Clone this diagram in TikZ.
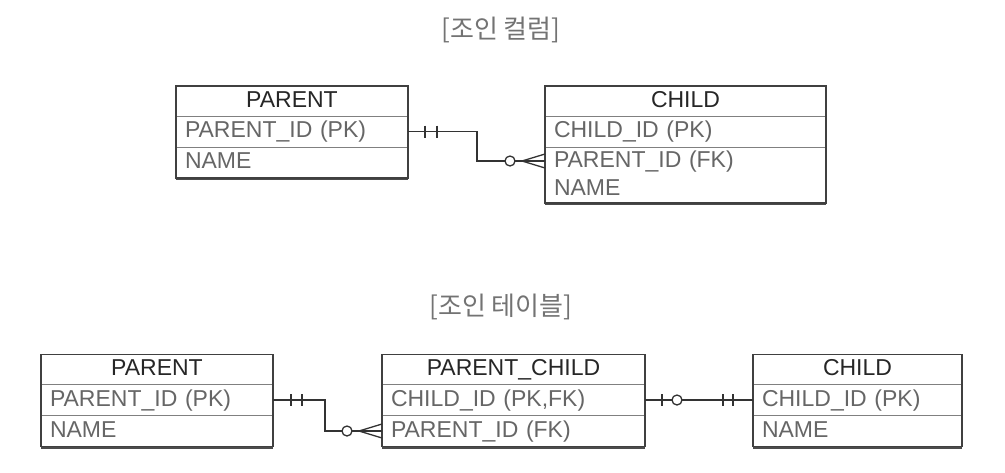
\documentclass[tikz,border=0pt]{standalone}
\usepackage{fontspec}
\setmainfont{Liberation Sans}
\newfontfamily\krfont{Noto Sans CJK KR}
\usepackage{tikz}
\usetikzlibrary{positioning}
\tikzset{
   tblhead/.style={minimum height=30pt, inner sep=0pt, outer sep=0pt, text height=17pt, text depth=5pt,
                   text=black!85, font=\fontsize{23}{26}\selectfont},
   tblrow/.style={anchor=north west, text width=#1, align=left, minimum height=31pt, inner xsep=9pt, inner ysep=0pt,
                  outer sep=0pt, text height=17pt, text depth=5pt, text=black!60, font=\fontsize{23}{26}\selectfont},
   tblframe/.style={draw=black!75, line width=1.2pt},
   tblsep/.style={draw=black!50, line width=1pt},
   tblbase/.style={draw=black!70, line width=2.4pt},
   link/.style={draw=black!80, line width=1.3pt},
   title/.style={text=black!55, font=\krfont\fontsize{26}{30}\selectfont}
}

\begin{document}
\begin{tikzpicture}[x=1pt, y=-1pt]
\useasboundingbox (0,0) rectangle (1005,472);

\node[title] (t1) at (501,30) {[조인 컬럼]};
\node[title] (t2) at (501,307) {[조인 테이블]};

% join column
\node[tblhead, minimum width=232pt] (p1h) at (292,101) {PARENT};
\node[tblrow=214pt] (p1id) at (p1h.south west) {PARENT\_ID (PK)};
\node[tblrow=214pt] (p1nm) at (p1id.south west) {NAME};

\node[tblhead, minimum width=281pt] (c1h) at (685.5,101) {CHILD};
\node[tblrow=263pt] (c1id) at (c1h.south west) {CHILD\_ID (PK)};
\node[tblrow=263pt, minimum height=28pt] (c1fk) at (c1id.south west) {PARENT\_ID (FK)};
\node[tblrow=263pt, minimum height=28pt] (c1nm) at (c1fk.south west) {NAME};

% join table
\node[tblhead, minimum width=232pt] (p2h) at (157,369.5) {PARENT};
\node[tblrow=214pt] (p2id) at (p2h.south west) {PARENT\_ID (PK)};
\node[tblrow=214pt] (p2nm) at (p2id.south west) {NAME};

\node[tblhead, minimum width=263pt] (pch) at (513.5,369.5) {PARENT\_CHILD};
\node[tblrow=245pt] (pcid) at (pch.south west) {CHILD\_ID (PK,FK)};
\node[tblrow=245pt] (pcfk) at (pcid.south west) {PARENT\_ID (FK)};

\node[tblhead, minimum width=209pt] (c2h) at (857.5,369.5) {CHILD};
\node[tblrow=191pt] (c2id) at (c2h.south west) {CHILD\_ID (PK)};
\node[tblrow=191pt] (c2nm) at (c2id.south west) {NAME};

% frames
\foreach \R in {p1h,p1id,c1h,c1id,p2h,p2id,pch,pcid,c2h,c2id}
   \draw[tblsep] (\R.south west) -- (\R.south east);
\foreach \H/\L in {p1h/p1nm,c1h/c1nm,p2h/p2nm,pch/pcfk,c2h/c2nm}{
   \draw[tblbase] ([yshift=-1pt]\L.south west) -- ([yshift=-1pt]\L.south east);
   \draw[tblframe] (\H.north west) rectangle (\L.south east);
}

% PARENT -- CHILD
\draw[link] (p1id.east) -- ++(69,0) |- (c1fk.west);
\foreach \d in {17pt,29pt}
   \draw[link] ([xshift=\d]p1id.east) ++(0,-6) -- ++(0,12);
\draw[link] ([yshift=7pt]c1fk.west) -- ([xshift=-23pt]c1fk.west) -- ([yshift=-7pt]c1fk.west);
\draw[link, fill=white] ([xshift=-35pt]c1fk.west) circle (5pt);

% PARENT -- PARENT_CHILD
\draw[link] (p2id.east) -- ++(52,0) |- (pcfk.west);
\foreach \d in {18pt,29pt}
   \draw[link] ([xshift=\d]p2id.east) ++(0,-6) -- ++(0,12);
\draw[link] ([yshift=7pt]pcfk.west) -- ([xshift=-23pt]pcfk.west) -- ([yshift=-7pt]pcfk.west);
\draw[link, fill=white] ([xshift=-35pt]pcfk.west) circle (5pt);

% PARENT_CHILD -- CHILD
\draw[link] (pcid.east) -- (c2id.west);
\draw[link] ([xshift=17pt]pcid.east) ++(0,-6) -- ++(0,12);
\draw[link, fill=white] ([xshift=32pt]pcid.east) circle (5pt);
\foreach \d in {-20pt,-30pt}
   \draw[link] ([xshift=\d]c2id.west) ++(0,-6) -- ++(0,12);
\end{tikzpicture}
\end{document}
